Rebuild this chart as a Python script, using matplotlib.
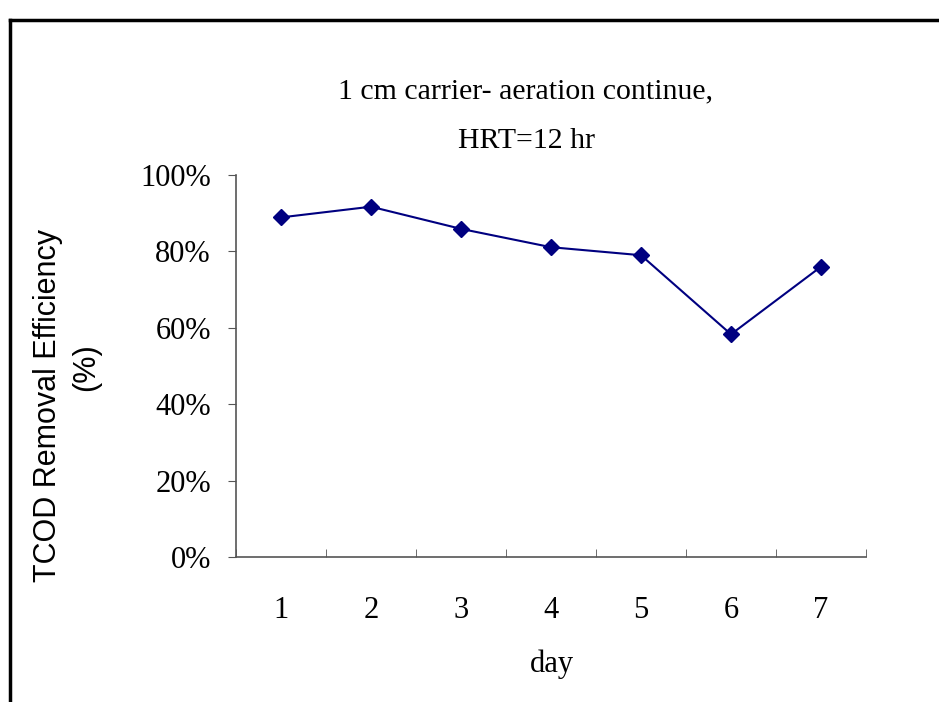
import matplotlib.pyplot as plt
from matplotlib.ticker import PercentFormatter, FixedLocator

days = ["1", "2", "3", "4", "5", "6", "7"]
removal = [88.9, 91.7, 85.9, 81.1, 79.0, 58.3, 76.0]

title_lines = ["1 cm carrier- aeration continue,", "HRT=12 hr"]
serif = "Liberation Serif"
W, H = 939, 702


def fx(px):
    return px / W


def fy(py):
    return 1 - py / H


fig = plt.figure(figsize=(9.39, 7.02), dpi=100)

# outer frame (top and left edges visible in the original)
fig.add_artist(plt.Line2D([fx(10), fx(10)], [0, fy(20)],
                          transform=fig.transFigure, color="black", lw=2.5))
fig.add_artist(plt.Line2D([fx(10), 1], [fy(20), fy(20)],
                          transform=fig.transFigure, color="black", lw=2.5))

ax = fig.add_axes([fx(236), fy(557), 630 / W, 382 / H])

x = range(len(days))
ax.plot(x, removal, color="#000080", lw=1.5, marker="D", markersize=8,
        markerfacecolor="#000080", markeredgecolor="#000080")

ax.set_xlim(-0.5, len(days) - 0.5)
ax.set_ylim(0, 100)
ax.set_yticks(range(0, 101, 20))
ax.yaxis.set_major_formatter(PercentFormatter(decimals=0))

ax.set_xticks(list(x))
ax.set_xticklabels(days)
ax.xaxis.set_minor_locator(FixedLocator([i - 0.5 for i in range(len(days) + 1)]))
ax.tick_params(axis="x", which="major", length=0, pad=28)
ax.tick_params(axis="x", which="minor", length=6, direction="in", color="#555555")
ax.tick_params(axis="y", length=6, direction="out", color="#555555", pad=12)

for lbl in ax.get_xticklabels() + ax.get_yticklabels():
    lbl.set_fontfamily(serif)
    lbl.set_fontsize(22)

for s in ["top", "right"]:
    ax.spines[s].set_visible(False)
for s in ["left", "bottom"]:
    ax.spines[s].set_color("#555555")
    ax.spines[s].set_linewidth(1.2)

fig.text(fx(526), fy(98), title_lines[0], ha="center", va="baseline",
         fontfamily=serif, fontsize=21.5)
fig.text(fx(526), fy(148), title_lines[1], ha="center", va="baseline",
         fontfamily=serif, fontsize=21.5)
fig.text(fx(552), fy(664), "day", ha="center", va="center",
         fontfamily=serif, fontsize=22)
fig.text(fx(48), fy(406), "TCOD Removal Efficiency", ha="center",
         va="center", rotation=90, fontfamily="Liberation Sans", fontsize=22)
fig.text(fx(86), fy(367), "(%)", ha="center", va="center", rotation=90,
         fontfamily="Liberation Sans", fontsize=22)

fig.savefig("out.png", dpi=100)
